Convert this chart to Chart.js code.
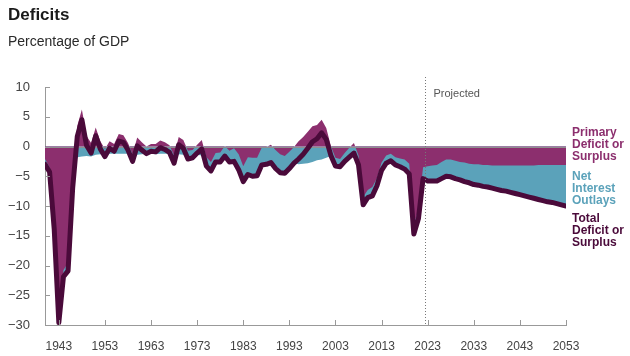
<!DOCTYPE html>
<html><head><meta charset="utf-8">
<script src="https://cdn.jsdelivr.net/npm/chart.js@4.4.1/dist/chart.umd.min.js"></script>
<style>
html,body{margin:0;padding:0;background:#fff;}
#wrap{position:relative;width:630px;height:356px;overflow:hidden;font-family:'Liberation Sans',Arial,sans-serif;}
canvas{position:absolute;left:0;top:0;}
.t{position:absolute;white-space:nowrap;}
.lab{font-size:12px;line-height:12px;font-weight:bold;}
</style></head><body>
<div id="wrap">
<canvas id="c" width="630" height="356"></canvas>
<div class="t" style="left:8px;top:6px;font-size:17px;line-height:17px;font-weight:bold;color:#1a1a1a;">Deficits</div>
<div class="t" style="left:8px;top:34px;font-size:14px;line-height:14px;color:#2a2a2a;">Percentage of GDP</div>
<div class="t lab" style="left:572px;top:126px;color:#8C2F6E;">Primary<br>Deficit or<br>Surplus</div>
<div class="t lab" style="left:572px;top:170px;color:#5BA2BA;">Net<br>Interest<br>Outlays</div>
<div class="t lab" style="left:572px;top:212px;color:#4A0A3A;">Total<br>Deficit or<br>Surplus</div>
</div>
<script>
const years = [
1940,1941,1942,1943,1944,1945,1946,1947,1948,1949,
1950,1951,1952,1953,1954,1955,1956,1957,1958,1959,
1960,1961,1962,1963,1964,1965,1966,1967,1968,1969,
1970,1971,1972,1973,1974,1975,1976,1977,1978,1979,
1980,1981,1982,1983,1984,1985,1986,1987,1988,1989,
1990,1991,1992,1993,1994,1995,1996,1997,1998,1999,
2000,2001,2002,2003,2004,2005,2006,2007,2008,2009,
2010,2011,2012,2013,2014,2015,2016,2017,2018,2019,
2020,2021,2022,2023,2024,2025,2026,2027,2028,2029,
2030,2031,2032,2033,2034,2035,2036,2037,2038,2039,
2040,2041,2042,2043,2044,2045,2046,2047,2048,2049,
2050,2051,2052,2053];

const primaryDeficit = [
-2.1,-3.5,-13.2,-28.8,-20.8,-19.5,-5.2,3.5,6.2,1.8,
0.6,3.2,0.9,-0.4,0.9,0.4,2.1,1.9,0.6,-1.3,
1.5,0.7,0.0,0.4,0.4,1.0,0.7,0.2,-1.5,1.6,
1.1,-0.7,-0.6,0.3,1.1,-1.8,-2.6,-1.1,-1.0,0.1,
-0.7,-0.3,-1.3,-3.3,-1.8,-1.9,-1.9,-0.2,-0.1,0.3,
-0.6,-1.3,-1.6,-0.9,-0.1,0.9,1.6,2.5,3.4,3.6,
4.5,3.1,0.1,-1.9,-2.1,-1.1,-0.2,0.6,-1.5,-8.5,
-7.3,-6.8,-5.3,-2.7,-1.5,-1.2,-1.8,-2.0,-2.2,-2.9,
-13.1,-10.6,-3.5,-3.3,-3.2,-3.1,-2.6,-2.2,-2.2,-2.4,
-2.6,-2.7,-2.9,-3.0,-3.0,-3.1,-3.1,-3.2,-3.2,-3.2,
-3.2,-3.2,-3.2,-3.2,-3.2,-3.2,-3.2,-3.1,-3.1,-3.1,
-3.1,-3.1,-3.1,-3.1];

const netInterest = [
-0.9,-0.8,-0.7,-0.8,-1.1,-1.4,-1.8,-1.8,-1.7,-1.6,
-1.7,-1.4,-1.3,-1.3,-1.2,-1.2,-1.2,-1.2,-1.2,-1.2,
-1.4,-1.3,-1.2,-1.2,-1.3,-1.2,-1.2,-1.2,-1.3,-1.3,
-1.4,-1.4,-1.3,-1.4,-1.5,-1.5,-1.5,-1.5,-1.6,-1.7,
-1.9,-2.2,-2.6,-2.6,-2.9,-3.1,-3.0,-2.9,-2.9,-3.0,
-3.1,-3.1,-2.9,-2.8,-2.7,-3.0,-2.9,-2.8,-2.6,-2.3,
-2.2,-1.9,-1.6,-1.4,-1.3,-1.4,-1.6,-1.7,-1.6,-1.3,
-1.3,-1.5,-1.3,-1.3,-1.3,-1.2,-1.3,-1.4,-1.6,-1.7,
-1.6,-1.5,-1.9,-2.5,-2.6,-2.7,-2.8,-2.8,-2.9,-3.0,
-3.0,-3.2,-3.2,-3.4,-3.5,-3.6,-3.7,-3.8,-4.0,-4.2,
-4.3,-4.5,-4.7,-4.9,-5.1,-5.3,-5.5,-5.8,-6.0,-6.2,
-6.3,-6.5,-6.7,-6.9];

const totalDeficit = [
-3.0,-4.3,-13.9,-29.6,-21.9,-20.9,-7.0,1.7,4.5,0.2,
-1.1,1.8,-0.4,-1.7,-0.3,-0.8,0.9,0.7,-0.6,-2.5,
0.1,-0.6,-1.2,-0.8,-0.9,-0.2,-0.5,-1.0,-2.8,0.3,
-0.3,-2.1,-1.9,-1.1,-0.4,-3.3,-4.1,-2.6,-2.6,-1.6,
-2.6,-2.5,-3.9,-5.9,-4.7,-5.0,-4.9,-3.1,-3.0,-2.7,
-3.7,-4.4,-4.5,-3.7,-2.8,-2.1,-1.3,-0.3,0.8,1.3,
2.3,1.2,-1.5,-3.3,-3.4,-2.5,-1.8,-1.1,-3.1,-9.8,
-8.6,-8.3,-6.6,-4.0,-2.8,-2.4,-3.1,-3.4,-3.8,-4.6,
-14.7,-12.1,-5.4,-5.8,-5.8,-5.8,-5.4,-5.0,-5.1,-5.4,
-5.6,-5.9,-6.1,-6.4,-6.5,-6.7,-6.8,-7.0,-7.2,-7.4,
-7.5,-7.7,-7.9,-8.1,-8.3,-8.5,-8.7,-8.9,-9.1,-9.3,
-9.4,-9.6,-9.8,-10.0];

const xTickYears = [1943,1953,1963,1973,1983,1993,2003,2013,2023,2033,2043,2053];
const yTickValues = [10,5,0,-5,-10,-15,-20,-25,-30];
const projectionStart = 2022.5;
const projectedLabel = 'Projected';

const toPts = arr => years.map((yr, i) => ({x: yr, y: arr[i]}));

Chart.defaults.font.family = "'Liberation Sans', Arial, sans-serif";

const decor = {
  id: 'decor',
  beforeDatasetDraw(chart, args) {
    if (args.index !== 0) return;
    const {ctx, chartArea: a, scales: {y}} = chart;
    const y0 = Math.round(y.getPixelForValue(0)) + 0.5;
    ctx.save();
    ctx.strokeStyle = '#8f8f8f';
    ctx.lineWidth = 1;
    ctx.beginPath(); ctx.moveTo(a.left, y0); ctx.lineTo(a.right, y0); ctx.stroke();
    ctx.restore();
  },
  afterDatasetsDraw(chart) {
    const {ctx, chartArea: a, scales: {x, y}} = chart;
    ctx.save();
    // projected divider
    const px = Math.round(x.getPixelForValue(projectionStart)) + 0.5;
    ctx.strokeStyle = '#777';
    ctx.lineWidth = 1;
    ctx.setLineDash([1, 2]);
    ctx.beginPath(); ctx.moveTo(px, 77); ctx.lineTo(px, a.bottom); ctx.stroke();
    ctx.setLineDash([]);
    ctx.fillStyle = '#555';
    ctx.font = "11px 'Liberation Sans', Arial, sans-serif";
    ctx.textAlign = 'left';
    ctx.textBaseline = 'alphabetic';
    ctx.fillText(projectedLabel, px + 8, 97);
    // inner tick marks
    ctx.strokeStyle = '#999';
    ctx.beginPath();
    xTickYears.forEach(v => {
      const tx = Math.round(x.getPixelForValue(v)) + 0.5;
      ctx.moveTo(tx, a.bottom); ctx.lineTo(tx, a.bottom - 5);
    });
    yTickValues.forEach(v => {
      const ty = Math.round(y.getPixelForValue(v)) + 0.5;
      ctx.moveTo(a.left, ty); ctx.lineTo(a.left + 5, ty);
    });
    ctx.stroke();
    ctx.restore();
  }
};

new Chart(document.getElementById('c'), {
  type: 'line',
  data: {
    datasets: [
      {label: 'Total Deficit or Surplus', data: toPts(totalDeficit), stack: 'total',
       borderColor: '#4A0A3A', borderWidth: 5, fill: false, borderJoinStyle: 'round', borderCapStyle: 'round'},
      {label: 'Primary Deficit or Surplus', data: toPts(primaryDeficit), stack: 'parts',
       borderWidth: 0, borderColor: 'rgba(0,0,0,0)', backgroundColor: '#8C2F6E', fill: 'origin'},
      {label: 'Net Interest Outlays', data: toPts(netInterest), stack: 'parts',
       borderWidth: 0, borderColor: 'rgba(0,0,0,0)', backgroundColor: '#5BA2BA', fill: 'origin'}
    ]
  },
  options: {
    responsive: false,
    animation: false,
    layout: {padding: {top: 87, right: 64, left: 0, bottom: 0}},
    plugins: {legend: {display: false}, tooltip: {enabled: false}},
    elements: {point: {radius: 0, hoverRadius: 0}, line: {tension: 0}},
    scales: {
      x: {
        type: 'linear', min: 1940, max: 2053,
        afterBuildTicks(s) { s.ticks = xTickYears.map(v => ({value: v})); },
        afterFit(s) { s.height = 31; },
        grid: {display: false, drawTicks: false},
        border: {display: true, color: '#999', width: 1},
        ticks: {autoSkip: false, maxRotation: 0, padding: 14, color: '#444', font: {size: 12},
                callback: v => String(v)}
      },
      y: {
        stacked: true, min: -30, max: 10,
        afterBuildTicks(s) { s.ticks = yTickValues.map(v => ({value: v})); },
        afterFit(s) { s.width = 45; },
        grid: {display: false, drawTicks: false},
        border: {display: true, color: '#999', width: 1},
        ticks: {padding: 15, color: '#444', font: {size: 13},
                callback: v => String(v).replace('-', '\u2212')}
      }
    }
  },
  plugins: [decor]
});
</script>
</body></html>
